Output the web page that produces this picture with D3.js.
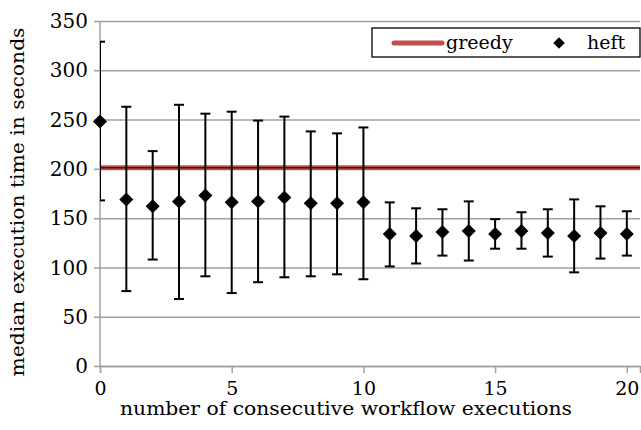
<!DOCTYPE html>
<html>
<head>
<meta charset="utf-8">
<script src="https://cdn.jsdelivr.net/npm/d3@7"></script>
<style>
  body { margin: 0; background: #fff; }
</style>
</head>
<body>
<div id="chart"></div>
<script>
// heft: median and error bar range per number of consecutive executions
var runs = d3.range(0, 21);
var heftMedian = [248, 169, 162, 167, 173, 166, 167, 171, 165, 165, 166,
  134, 132, 136, 137, 134, 137, 135, 132, 135, 134];
var heftHigh = [329, 263, 218, 265, 256, 258, 249, 253, 238, 236, 242,
  166, 160, 159, 167, 149, 156, 159, 169, 162, 157];
var heftLow = [168, 76, 108, 68, 91, 74, 85, 90, 91, 93, 88,
  101, 104, 112, 107, 119, 119, 111, 95, 109, 112];
var greedyValue = 201;
var yTicks = [0, 50, 100, 150, 200, 250, 300, 350];
var xTicks = [0, 5, 10, 15, 20];

var serif = "DejaVu Serif";

var W = 641, H = 430;
var margin = { top: 21, right: 1, bottom: 64, left: 100 },
  width = W - margin.left - margin.right,
  height = H - margin.top - margin.bottom;

var svg = d3.select("#chart")
  .append("svg")
  .attr("width", W)
  .attr("height", H)
  .append("g")
  .attr("transform", "translate(" + margin.left + "," + margin.top + ")");

var x = d3.scaleLinear().domain([0, 20.5]).range([0, width]);
var y = d3.scaleLinear().domain([0, 350]).range([height, 0]);

svg.append("defs").append("clipPath").attr("id", "plotclip")
  .append("rect").attr("x", 0).attr("y", -5).attr("width", width).attr("height", height + 10);

// grid lines + y axis
var yAxis = svg.append("g")
  .call(d3.axisLeft(y).tickValues(yTicks).tickSize(-width).tickPadding(12).tickFormat(d3.format("d")));
yAxis.select(".domain").remove();
yAxis.selectAll(".tick line").attr("stroke", "#a0a0a0").attr("stroke-width", 1.5).attr("x1", -6);
yAxis.selectAll(".tick text").style("font-family", serif).style("font-size", "20px").attr("dy", "0.33em");

svg.append("line")
  .attr("x1", 0).attr("x2", 0).attr("y1", 0).attr("y2", height)
  .attr("stroke", "#a0a0a0").attr("stroke-width", 1.5);

// x axis
var xAxis = svg.append("g")
  .attr("transform", "translate(0," + height + ")")
  .call(d3.axisBottom(x).tickValues(xTicks).tickSize(7).tickPadding(7));
xAxis.select(".domain").attr("stroke", "#a0a0a0").attr("stroke-width", 1.5);
xAxis.selectAll(".tick line").attr("stroke", "#a0a0a0").attr("stroke-width", 1.5);
xAxis.selectAll(".tick text").style("font-family", serif).style("font-size", "19px").attr("dy", "0.8em");

// greedy line
svg.append("line")
  .attr("x1", x(0)).attr("x2", x(20.5))
  .attr("y1", y(greedyValue)).attr("y2", y(greedyValue))
  .attr("stroke", "#c0504d").attr("stroke-width", 5);
svg.append("line")
  .attr("x1", x(0)).attr("x2", x(20.5))
  .attr("y1", y(greedyValue)).attr("y2", y(greedyValue))
  .attr("stroke", "#4a1210").attr("stroke-width", 1.5);

// error bars
var eb = svg.append("g").attr("clip-path", "url(#plotclip)")
  .selectAll("g").data(runs).enter().append("g");
eb.append("line")
  .attr("x1", function (d) { return x(d); }).attr("x2", function (d) { return x(d); })
  .attr("y1", function (d) { return y(heftHigh[d]); })
  .attr("y2", function (d) { return y(heftLow[d]); })
  .attr("stroke", "#000").attr("stroke-width", 2);
eb.append("line")
  .attr("x1", function (d) { return x(d) - 5; }).attr("x2", function (d) { return x(d) + 5; })
  .attr("y1", function (d) { return y(heftHigh[d]); })
  .attr("y2", function (d) { return y(heftHigh[d]); })
  .attr("stroke", "#000").attr("stroke-width", 2);
eb.append("line")
  .attr("x1", function (d) { return x(d) - 5; }).attr("x2", function (d) { return x(d) + 5; })
  .attr("y1", function (d) { return y(heftLow[d]); })
  .attr("y2", function (d) { return y(heftLow[d]); })
  .attr("stroke", "#000").attr("stroke-width", 2);

// heft diamonds
var diamond = d3.symbol().type(d3.symbolDiamond2).size(125);
svg.append("g")
  .selectAll("path")
  .data(runs)
  .enter()
  .append("path")
  .attr("d", diamond)
  .attr("transform", function (d) { return "translate(" + x(d) + "," + y(heftMedian[d]) + ")"; })
  .attr("fill", "#000");

// legend
var lg = svg.append("g").attr("transform", "translate(" + (372 - margin.left) + "," + (28 - margin.top) + ")");
lg.append("rect").attr("width", 268).attr("height", 29)
  .attr("fill", "#fff").attr("stroke", "#000").attr("stroke-width", 1.3);
lg.append("line").attr("x1", 22).attr("x2", 70).attr("y1", 15).attr("y2", 15)
  .attr("stroke", "#c0504d").attr("stroke-width", 5).attr("stroke-linecap", "round");
lg.append("text").attr("x", 74).attr("y", 21)
  .style("font-family", serif).style("font-size", "19px")
  .text("greedy");
lg.append("path").attr("d", d3.symbol().type(d3.symbolDiamond2).size(85))
  .attr("transform", "translate(187,15)").attr("fill", "#000");
lg.append("text").attr("x", 215).attr("y", 21)
  .style("font-family", serif).style("font-size", "19px")
  .text("heft");

// axis titles
svg.append("text")
  .attr("x", 346 - margin.left).attr("y", 415 - margin.top)
  .attr("text-anchor", "middle")
  .style("font-family", serif).style("font-size", "18px")
  .attr("textLength", 452).attr("lengthAdjust", "spacingAndGlyphs")
  .text("number of consecutive workflow executions");

svg.append("text")
  .attr("transform", "translate(" + (24 - margin.left) + "," + (202 - margin.top) + ") rotate(-90)")
  .attr("text-anchor", "middle")
  .style("font-family", serif).style("font-size", "19px")
  .attr("textLength", 349).attr("lengthAdjust", "spacingAndGlyphs")
  .text("median execution time in seconds");
</script>
</body>
</html>
